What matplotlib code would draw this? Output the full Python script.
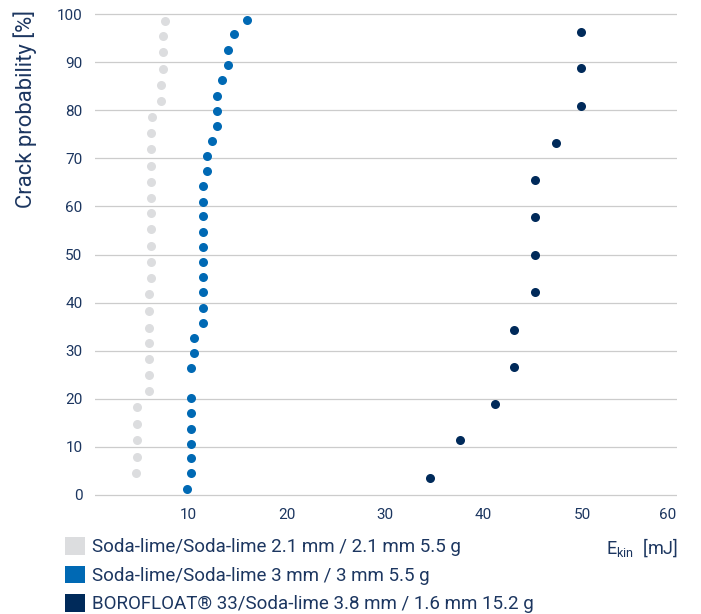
import matplotlib
matplotlib.use("Agg")
import matplotlib.pyplot as plt
from matplotlib.patches import Patch

# crack probability [%] (y) vs kinetic energy [mJ] (x)
gray_y = [4.6, 8.0, 11.5, 14.8, 18.2, 21.6, 24.9, 28.2, 31.5, 34.8, 38.3, 41.7, 45.1, 48.4, 51.8,
          55.2, 58.6, 61.7, 65.1, 68.5, 71.9, 75.2, 78.5, 81.9, 85.2, 88.6, 92.1, 95.4, 98.6]
gray_x = [4.66, 4.76, 4.76, 4.76, 4.76, 5.98, 5.98, 5.98, 5.98, 5.98, 5.98, 5.98, 6.18, 6.18, 6.18,
          6.18, 6.18, 6.18, 6.18, 6.18, 6.18, 6.18, 6.28, 7.2, 7.2, 7.4, 7.4, 7.4, 7.67]

blue_y = [1.2, 4.5, 7.6, 10.7, 13.7, 17.0, 20.2, 26.3, 29.5, 32.7, 35.8, 38.9, 42.1, 45.4, 48.4,
          51.6, 54.7, 58.0, 61.0, 64.2, 67.3, 70.5, 73.6, 76.8, 79.9, 83.0, 86.2, 89.4, 92.5, 95.8, 98.7]
blue_x = [9.9, 10.27, 10.27, 10.27, 10.27, 10.27, 10.27, 10.27, 10.61, 10.61, 11.5, 11.5, 11.5, 11.5, 11.5,
          11.5, 11.5, 11.5, 11.5, 11.5, 11.9, 11.9, 12.41, 12.88, 12.88, 12.88, 13.45, 14.0, 14.0, 14.64, 15.93]

dark_y = [3.6, 11.4, 19.0, 26.7, 34.4, 42.1, 50.0, 57.7, 65.5, 73.2, 80.9, 88.7, 96.3]
dark_x = [34.53, 37.61, 41.14, 43.1, 43.1, 45.17, 45.17, 45.17, 45.17, 47.36, 49.87, 49.87, 49.87]

labels = ["Soda-lime/Soda-lime 2.1 mm / 2.1 mm 5.5 g",
          "Soda-lime/Soda-lime 3 mm / 3 mm 5.5 g",
          "BOROFLOAT® 33/Soda-lime 3.8 mm / 1.6 mm 15.2 g"]
colors = ["#dcdddf", "#0069b4", "#002a5a"]
xticks = [10, 20, 30, 40, 50]
yticks = [0, 10, 20, 30, 40, 50, 60, 70, 80, 90, 100]

txt = "#1c3660"
plt.rcParams['font.family'] = ['Roboto', 'DejaVu Sans']
plt.rcParams['mathtext.fontset'] = 'custom'
plt.rcParams['mathtext.rm'] = 'Roboto'

fig = plt.figure(figsize=(7.01, 6.14), dpi=100)
ax = fig.add_axes([0.1355, 0.186, 0.8298, 0.799])

for xs, ys, c in zip([gray_x, blue_x, dark_x], [gray_y, blue_y, dark_y], colors):
    ax.plot(xs, ys, 'o', color=c, markersize=6.5, markeredgewidth=0, clip_on=False, zorder=3)

ax.set_xlim(0.53, 59.6)
ax.set_ylim(-1, 101)
ax.set_yticks(yticks)
ax.set_xticks(xticks + [59.6])
ax.set_xticklabels([str(t) for t in xticks] + ["60"])
ax.get_xticklabels()[-1].set_ha('right')
ax.grid(axis='y', color='#cccccc', linewidth=0.9)
ax.set_axisbelow(True)
for s in ax.spines.values():
    s.set_visible(False)
ax.tick_params(axis='both', length=0, labelsize=11, colors=txt)
ax.tick_params(axis='y', pad=9)
ax.tick_params(axis='x', pad=6)

fig.text(25 / 701, 1 - 10 / 614, "Crack probability [%]", rotation=90, ha='center', va='top',
         fontsize=15.8, color=txt)
fig.text(606 / 701, 1 - 548 / 614, r"E$_{\mathrm{kin}}$  [mJ]", ha='left', va='center',
         fontsize=13, color=txt)

handles = [Patch(facecolor=c, edgecolor='none') for c in colors]
leg = fig.legend(handles, labels, loc='upper left', bbox_to_anchor=(65 / 701, 1 - 537 / 614),
                 frameon=False, fontsize=13.5, handlelength=1.07, handleheight=1.07,
                 handletextpad=0.36, labelspacing=0.5, borderpad=0, borderaxespad=0)
for t in leg.get_texts():
    t.set_color(txt)

fig.savefig("out.png", dpi=100)
